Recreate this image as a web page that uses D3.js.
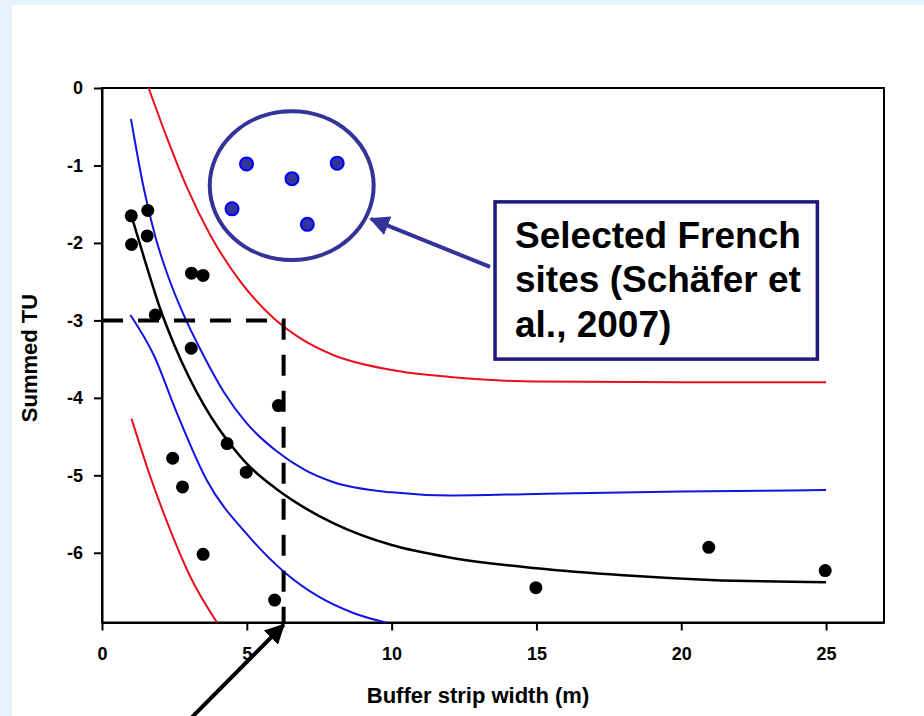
<!DOCTYPE html>
<html>
<head>
<meta charset="utf-8">
<script src="https://cdn.jsdelivr.net/npm/d3@7"></script>
<style>
  body { margin: 0; background: #e6f3fd; }
  svg { display: block; }
  text { font-family: "Liberation Sans", Arial, sans-serif; font-weight: bold; }
</style>
</head>
<body>
<script>
const w = 924;
const h = 716;

// observed sites
const obsX = [1.01, 1.02, 1.58, 1.56, 1.84, 3.09, 3.49, 3.08, 6.09, 4.32, 4.98, 2.44, 2.78, 3.49, 5.96, 14.98, 20.95, 24.97];
const obsY = [-1.65, -2.02, -1.58, -1.91, -2.93, -2.39, -2.42, -3.36, -4.10, -4.59, -4.96, -4.78, -5.15, -6.02, -6.61, -6.45, -5.93, -6.23];

// selected French sites
const frX = [4.99, 6.56, 8.12, 4.49, 7.09];
const frY = [-0.98, -1.17, -0.97, -1.56, -1.76];

// fitted curve
const fitX = [1.04, 1.5, 2.0, 2.5, 3.0, 3.5, 4.0, 4.5, 5.0, 6, 7, 8, 10, 12, 15, 18, 21, 25];
const fitY = [-1.68, -2.25, -2.84, -3.32, -3.73, -4.08, -4.38, -4.63, -4.85, -5.17, -5.42, -5.62, -5.9, -6.06, -6.2, -6.29, -6.35, -6.38];

// inner band (blue)
const blueUpX = [1.0, 1.44, 1.85, 2.3, 2.82, 3.5, 4.2, 5, 6, 7, 8, 10, 12, 15, 20, 25];
const blueUpY = [-0.40, -1.29, -1.93, -2.45, -2.93, -3.45, -3.92, -4.33, -4.68, -4.93, -5.09, -5.22, -5.26, -5.24, -5.21, -5.19];
const blueLoX = [0.98, 1.79, 2.59, 3.6, 5.1, 6.3, 7.5, 8.7, 9.8];
const blueLoY = [-2.93, -3.45, -4.2, -5.05, -5.8, -6.25, -6.57, -6.78, -6.9];

// outer band (red)
const redUpX = [1.61, 2.25, 2.94, 3.74, 4.78, 5.92, 6.84, 8, 10, 12, 15, 20, 25];
const redUpY = [0, -0.65, -1.29, -1.9, -2.5, -2.97, -3.23, -3.45, -3.64, -3.73, -3.79, -3.8, -3.8];
const redLoX = [1.02, 1.67, 2.36, 3.05, 3.97];
const redLoY = [-4.27, -5.02, -5.71, -6.31, -6.9];

const xTicks = [0, 5, 10, 15, 20, 25];
const yTicks = [0, -1, -2, -3, -4, -5, -6];

const boxLines = ["Selected French", "sites (Schäfer et", "al., 2007)"];

const svg = d3.select("body")
    .append("svg")
    .attr("width", w)
    .attr("height", h)
    ;

svg.append("rect")
    .attr("x", 12)
    .attr("y", 5)
    .attr("width", w - 12)
    .attr("height", h - 5)
    .attr("fill", "#ffffff")
    ;

const xScale = d3.scaleLinear()
    .domain([0, 27])
    .range([102, 884])
    ;

const yScale = d3.scaleLinear()
    .domain([-6.9, 0])
    .range([622.5, 88])
    ;

// frame
svg.append("rect")
    .attr("x", xScale(0))
    .attr("y", yScale(0))
    .attr("width", xScale(27) - xScale(0))
    .attr("height", yScale(-6.9) - yScale(0))
    .attr("fill", "none")
    .attr("stroke", "#000")
    .attr("stroke-width", 2)
    ;

const fmt = d => String(d).replace("\u2212", "-");
const xAxis = d3.axisBottom(xScale)
    .tickValues(xTicks)
    .tickFormat(fmt)
    .tickSize(8)
    .tickPadding(17)
    .tickSizeOuter(0)
    ;
const yAxis = d3.axisLeft(yScale)
    .tickValues(yTicks)
    .tickFormat(fmt)
    .tickSize(8)
    .tickPadding(11)
    .tickSizeOuter(0)
    ;

const gx = svg.append("g")
    .attr("transform", "translate(0, " + yScale(-6.9) + ")")
    .call(xAxis)
    ;
const gy = svg.append("g")
    .attr("transform", "translate(" + xScale(0) + ", 0)")
    .call(yAxis)
    ;
[gx, gy].forEach(g => {
    g.select(".domain").attr("stroke", "#000").attr("stroke-width", 2);
    g.selectAll(".tick line").attr("stroke", "#000").attr("stroke-width", 2);
    g.selectAll(".tick text")
        .attr("fill", "#000")
        .style("font-size", "18px")
        .style("font-family", "'Liberation Sans', Arial, sans-serif")
        .style("font-weight", "bold");
});

svg.append("text")
    .attr("transform", "translate(37, 358) rotate(-90)")
    .attr("text-anchor", "middle")
    .style("font-size", "22px")
    .text("Summed TU")
    ;

svg.append("text")
    .attr("x", 478)
    .attr("y", 703)
    .attr("text-anchor", "middle")
    .style("font-size", "22px")
    .text("Buffer strip width (m)")
    ;

// curves
const line = d3.line()
    .x(d => xScale(d[0]))
    .y(d => yScale(d[1]))
    .curve(d3.curveMonotoneX)
    ;
const curves = [
    [redUpX, redUpY, "#e8101c", 2],
    [redLoX, redLoY, "#e8101c", 2],
    [blueUpX, blueUpY, "#1414e0", 2],
    [blueLoX, blueLoY, "#1414e0", 2],
    [fitX, fitY, "#000000", 2.5]
];
curves.forEach(c => {
    svg.append("path")
        .datum(d3.zip(c[0], c[1]))
        .attr("d", line)
        .attr("fill", "none")
        .attr("stroke", c[2])
        .attr("stroke-width", c[3])
        ;
});

// dashed reading line at TU = -3
const cut = 6.27;
svg.append("path")
    .datum([[0, -3], [cut, -3], [cut, -6.9]])
    .attr("d", d3.line().x(d => xScale(d[0])).y(d => yScale(d[1])))
    .attr("fill", "none")
    .attr("stroke", "#000")
    .attr("stroke-width", 4)
    .attr("stroke-dasharray", "21,15")
    ;

// observed points
svg.append("g")
    .selectAll("circle")
    .data(d3.zip(obsX, obsY))
    .join("circle")
    .attr("cx", d => xScale(d[0]))
    .attr("cy", d => yScale(d[1]))
    .attr("r", 6.5)
    .attr("fill", "#000")
    ;

// French sites inside the ellipse
svg.append("ellipse")
    .attr("cx", xScale(6.55))
    .attr("cy", yScale(-1.26))
    .attr("rx", xScale(6.55 + 2.83) - xScale(6.55))
    .attr("ry", yScale(-1.26 - 0.96) - yScale(-1.26))
    .attr("fill", "none")
    .attr("stroke", "#333399")
    .attr("stroke-width", 4)
    ;
svg.append("g")
    .selectAll("circle")
    .data(d3.zip(frX, frY))
    .join("circle")
    .attr("cx", d => xScale(d[0]))
    .attr("cy", d => yScale(d[1]))
    .attr("r", 6.5)
    .attr("fill", "#333399")
    .attr("stroke", "#0000ff")
    .attr("stroke-width", 2)
    ;

// arrowheads
const defs = svg.append("defs");
[["navy", "#333399"], ["blk", "#000"]].forEach(m => {
    defs.append("marker")
        .attr("id", "arrow-" + m[0])
        .attr("viewBox", "0 0 10 10")
        .attr("refX", 9)
        .attr("refY", 5)
        .attr("markerWidth", 5)
        .attr("markerHeight", 5)
        .attr("markerUnits", "strokeWidth")
        .attr("orient", "auto")
        .append("path")
        .attr("d", "M0,0 L10,5 L0,10 Z")
        .attr("fill", m[1])
        ;
});

// label box
const boxX0 = 13.57, boxX1 = 24.7, boxY0 = -1.47, boxY1 = -3.5;
svg.append("rect")
    .attr("x", xScale(boxX0))
    .attr("y", yScale(boxY0))
    .attr("width", xScale(boxX1) - xScale(boxX0))
    .attr("height", yScale(boxY1) - yScale(boxY0))
    .attr("fill", "#fff")
    .attr("stroke", "#1a1a80")
    .attr("stroke-width", 3.5)
    ;
svg.append("g")
    .selectAll("text")
    .data(boxLines)
    .join("text")
    .attr("x", xScale(boxX0) + 20)
    .attr("y", (d, i) => yScale(boxY0) + 46 + i * 44.5)
    .style("font-size", "37px")
    .attr("fill", "#000")
    .text(d => d)
    ;

// arrow from box to ellipse
svg.append("line")
    .attr("x1", xScale(13.4))
    .attr("y1", yScale(-2.31))
    .attr("x2", xScale(9.29))
    .attr("y2", yScale(-1.69))
    .attr("stroke", "#333399")
    .attr("stroke-width", 4)
    .attr("marker-end", "url(#arrow-navy)")
    ;

svg.append("line")
    .attr("x1", xScale(2.9))
    .attr("y1", yScale(-8.2))
    .attr("x2", xScale(cut))
    .attr("y2", yScale(-6.93))
    .attr("stroke", "#000")
    .attr("stroke-width", 4)
    .attr("marker-end", "url(#arrow-blk)")
    ;
</script>
</body>
</html>
